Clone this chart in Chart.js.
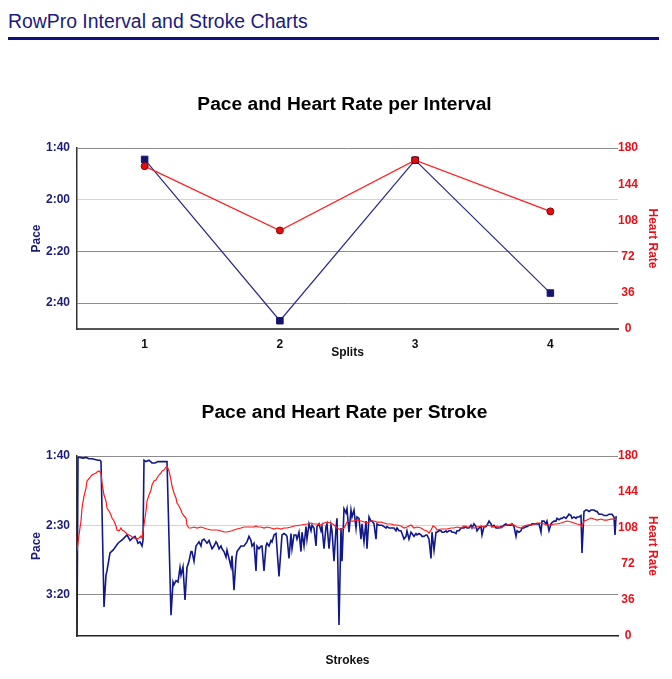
<!DOCTYPE html>
<html><head><meta charset="utf-8">
<script src="https://cdn.jsdelivr.net/npm/chart.js@4/dist/chart.umd.min.js"></script>
<style>
html,body{margin:0;padding:0;background:#fff;width:672px;height:679px;overflow:hidden;}
#hdr{position:absolute;left:8px;top:10px;font-family:"Liberation Sans",Arial,Helvetica,sans-serif;font-size:19.4px;color:#1a1a80;white-space:nowrap;}
#rule{position:absolute;left:8px;top:37px;width:651px;height:3px;background:#10107f;}
canvas{position:absolute;}
#c1{left:14px;top:85px;}
#c2{left:14px;top:393px;}
</style></head><body>
<div id="hdr">RowPro Interval and Stroke Charts</div>
<div id="rule"></div>
<canvas id="c1" width="658" height="282"></canvas>
<canvas id="c2" width="658" height="282"></canvas>
<script>
// ---- Interval chart data ----
const splits = ['1','2','3','4'];
const intervalPace = [104.4, 166.8, 104.7, 156.1];   // seconds per 500m
const intervalHR = [162, 98, 168, 117];
const intervalPaceTicks = [100,120,140,160];
const intervalPaceTickLabels = ['1:40','2:00','2:20','2:40'];
const hrTicks = [0,36,72,108,144,180];

// ---- Stroke chart data ----
const strokePaceTicks = [100,150,200];
const strokePaceTickLabels = ['1:40','2:30','3:20'];
const paceStrokeNo = [1,2,4,7,10,13,16,19,22,24,25,28,30,31,34,37,42,47,51,54,57,59,61,62,64,66,67,68,70,73,76,79,82,85,88,90,91,95,97,98,100,102,104,105,107,109,111,113,115,116,118,120,121,123,125,126,128,130,131,133,135,136,138,140,141,143,145,146,148,150,151,153,155,156,158,160,161,163,165,166,168,170,171,173,175,176,178,180,181,183,185,186,188,190,191,193,195,196,198,200,201,203,205,206,208,210,211,213,215,216,218,220,221,223,225,226,228,230,231,233,235,236,238,240,241,243,245,246,248,250,251,253,255,256,258,260,261,263,265,266,268,270,271,273,275,276,278,280,281,283,285,286,288,290,291,293,295,296,298,300,301,303,305,306,308,310,311,313,315,316,318,320,321,323,325,326,328,330,331,333,335,336,338,340,341,343,345,346,348,350,351,353,355,356,358,360,361,363,365,366,368,370,371,373,375,376,378,380,381,383,385,386,388,390,391,393,395,396,398,400,401,403,405,406,408,410,411,413,415,416,418,420,421,423,425,426,428,430,431,433,435,436,438,440,441,443,445,446,448,450,451,453,455,456,458,460,461,463,465,466,468,470,471,473,475,476,478,480,481,483,485,486,488,490,491,493,495,496,498,500,501,503,505,506,508,510,511,513,515,516,518,520,521,523,525,526,528,530,531,533,535,536,538,539,540,541];
const paceSec = [230,101,101,101.5,101,102,102,102.5,103,103,104,209,186,183,170,168,163,160,157,161,159,158,161,163,162,165,161,103,104,103,105,105,104,104,104,104,104,215,191,193,190,191,180.5,186,180,204,180.5,176,169,169,176,165,164,162,165,161,160,162,163,161,165,167,165,162,163,167,165,167,169,173,168,174,180,172,197,174,169,167,165,165,165,163,162,158,161,165,163,183,165,167,165,165,183,165,163,165,161,162,157,156,167,187,167,157,156,157,158,174,156,167,157,157,160,155,169,155,165,151,160,149,154,150,152,165,151,149,154,151,167,151,149,167,150,154,176,152,145,222,152,176,138,141,138,155,139,144,139,152,144,145,160,149,162,147,167,144,147,147,149,160,149,150,150,150,151,152,151,152,152,152,152,154,152,154,154,156,160,158,154,160,155,156,158,156,157,156,157,158,158,157,157,160,174,155,168,155,155,154,154,155,155,154,155,154,154,155,155,156,154,154,152,152,152,151,152,152,150,152,149,151,154,152,151,157,151,151,150,147,149,151,150,152,152,152,151,151,150,149,150,150,150,149,151,158,154,155,154,152,152,151,151,150,150,149,149,149,149,149,155,147,147,149,147,154,149,148,147,147,145,146,145,145,144,145,144,142,143,145,144,145,144,144,143,170,140,139,139,140,139,139,139,140,140,142,142,142,143,143,143,142,142,142,144,157,144,144];
const hrStrokeNo = [1,3,5,6,8,10,11,15,16,18,20,21,23,25,26,28,30,31,33,35,36,38,40,41,43,45,46,48,50,51,53,55,56,58,61,63,65,66,68,70,71,73,75,76,78,80,81,83,85,86,88,90,91,93,95,96,98,100,101,103,105,106,108,110,111,113,115,118,121,125,128,131,135,138,141,145,148,151,155,158,161,165,168,171,175,178,180,182,185,188,191,195,198,201,205,208,211,215,218,225,231,235,238,241,245,248,251,255,258,261,265,268,270,271,275,278,281,285,288,291,295,298,301,305,308,311,315,318,321,325,328,331,335,338,341,345,348,351,353,355,357,359,361,365,368,371,375,378,381,385,388,391,395,398,401,405,408,411,415,418,421,425,428,431,435,438,441,445,448,451,455,458,461,465,468,471,475,478,481,485,488,491,495,498,501,505,506,508,511,515,518,521,525,528,531,535,538,541];
const hrBpm = [85,101,115,128,140,148,155,160,161,162,163,164,165,163,153,141,135,128,125,121,118,115,110,106,105,108,106,105,103,102,101,100,99,98,97,98,100,98,111,125,135,141,146,151,155,156,158,161,163,165,166,169,170,165,156,150,143,138,133,130,126,123,120,118,111,108,108,109,108,109,108,107,106,106,106,105,104,104,105,106,107,108,109,109,109,109,110,109,109,108,109,108,107,108,107,108,108,109,110,111,112,113,112,112,111,113,114,113,111,108,106,108,112,114,115,115,116,115,114,113,115,115,114,114,113,112,112,111,111,110,108,109,111,108,109,108,106,105,103,106,110,109,106,107,107,107,108,108,109,108,110,109,109,108,109,110,109,111,110,109,110,108,110,111,112,111,109,108,110,111,111,112,113,113,112,111,111,112,112,113,114,115,114,113,112,111,109,115,116,118,117,116,117,116,116,117,117,116];

const NAVY = '#1b1b78', RED = '#e8101a';
const FONT = '"Liberation Sans", Arial, Helvetica, sans-serif';
const f12 = {family: FONT, size: 12, weight: 'bold'};

function yScales(pMin, pMax, pTicks, pLabels) {
  return {
    yPace: {
      type: 'linear', position: 'left', reverse: true, min: pMin, max: pMax,
      afterBuildTicks: s => { s.ticks = pTicks.map(v => ({value: v})); },
      afterFit: s => { s.width = 52; },
      ticks: {color: NAVY, font: f12, padding: 7, callback: (v, i) => pLabels[i]},
      grid: {drawTicks: false, color: c => c.index === 1 ? '#d4d4d4' : '#8c8c8c', lineWidth: 1},
      border: {display: true, color: '#333', width: 1.5},
      title: {display: true, text: 'Pace', color: NAVY, font: f12, padding: {top: 4, bottom: 4}}
    },
    yHR: {
      type: 'linear', position: 'right', min: 0, max: 180,
      afterBuildTicks: s => { s.ticks = hrTicks.map(v => ({value: v})); },
      afterFit: s => { s.width = 46; },
      ticks: {color: RED, font: f12, padding: 0, crossAlign: 'center'},
      grid: {display: false, drawTicks: false},
      border: {display: false},
      title: {display: true, text: 'Heart Rate', color: RED, font: f12, padding: {top: 4, bottom: 4}}
    }
  };
}
function plugins(title) {
  return {
    title: {display: true, text: title, color: '#000', font: {family: FONT, size: 19.2, weight: 'bold'}, padding: {top: 8, bottom: 32}},
    legend: {display: false}, tooltip: {enabled: false}
  };
}

new Chart(document.getElementById('c1'), {
  type: 'line',
  data: {
    labels: splits,
    datasets: [
      {label: 'Heart Rate', data: intervalHR, yAxisID: 'yHR', order: 0,
       borderColor: '#ff2020', borderWidth: 1.2, pointStyle: 'circle', pointRadius: 3.5,
       pointBackgroundColor: '#e01010', pointBorderColor: '#900000', pointBorderWidth: 1, tension: 0},
      {label: 'Pace', data: intervalPace, yAxisID: 'yPace', order: 1,
       borderColor: '#2a2a88', borderWidth: 1.2, pointStyle: 'rect', pointRadius: 4.6,
       pointBackgroundColor: '#14146e', pointBorderColor: '#14146e', pointBorderWidth: 1, tension: 0}
    ]
  },
  options: {
    responsive: false, animation: false, devicePixelRatio: 1,
    layout: {padding: {left: 11, right: 8, top: 0, bottom: 7}},
    plugins: plugins('Pace and Heart Rate per Interval'),
    scales: Object.assign({
      x: {type: 'category', offset: true,
          afterFit: s => { s.height = 31; },
          ticks: {color: '#111', font: f12, padding: 8},
          grid: {display: false, drawTicks: false},
          border: {display: true, color: '#555', width: 2},
          title: {display: true, text: 'Splits', color: '#111', font: f12, padding: {top: 0, bottom: 0}}}
    }, yScales(100, 170, intervalPaceTicks, intervalPaceTickLabels))
  }
});

new Chart(document.getElementById('c2'), {
  type: 'line',
  data: {
    datasets: [
      {label: 'Heart Rate', data: hrStrokeNo.map((s, i) => ({x: s, y: hrBpm[i]})), yAxisID: 'yHR', order: 0,
       borderColor: '#ff1a1a', borderWidth: 1.2, pointRadius: 0, tension: 0},
      {label: 'Pace', data: paceStrokeNo.map((s, i) => ({x: s, y: paceSec[i]})), yAxisID: 'yPace', order: 1,
       borderColor: '#10188a', borderWidth: 1.6, pointRadius: 0, tension: 0}
    ]
  },
  options: {
    responsive: false, animation: false, devicePixelRatio: 1,
    layout: {padding: {left: 11, right: 8, top: 0, bottom: 7}},
    plugins: plugins('Pace and Heart Rate per Stroke'),
    scales: Object.assign({
      x: {type: 'linear', min: 1, max: 542,
          afterFit: s => { s.height = 32; },
          ticks: {display: false},
          grid: {display: false, drawTicks: false},
          border: {display: true, color: '#222', width: 1.5},
          title: {display: true, text: 'Strokes', color: '#111', font: f12, padding: {top: 0, bottom: 0}}}
    }, yScales(100, 230, strokePaceTicks, strokePaceTickLabels))
  }
});
</script>
</body></html>
